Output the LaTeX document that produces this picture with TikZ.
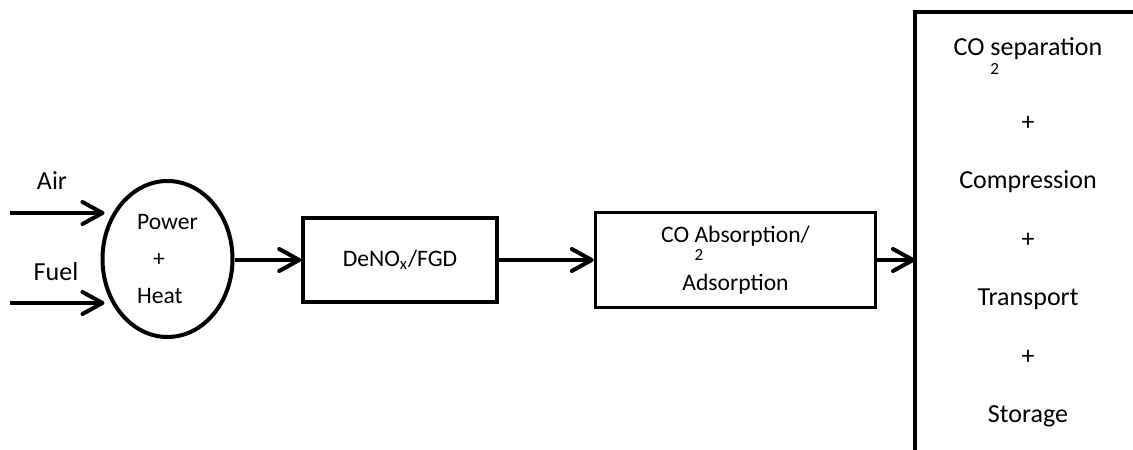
\documentclass[tikz,border=0pt]{standalone}
\usepackage{fontspec}
\setmainfont{Carlito}
\usetikzlibrary{arrows.meta,shapes.geometric}

% subscript 2 set low, under the next word
\newcommand{\lowtwo}{\rlap{\raisebox{-1.6ex}[0pt][0pt]{\fontsize{8.5}{8.5}\selectfont 2}}}

\begin{document}
\begin{tikzpicture}[x=0.5pt, y=-0.5pt,
  flow/.style={line width=2pt, -{Straight Barb[length=10pt, width=11pt, round]}},
  unit/.style={draw, line width=1.8pt, align=center, inner sep=0pt, font=\fontsize{11.8}{24}\selectfont},
  inlet/.style={font=\fontsize{13}{16}\selectfont}]
  \useasboundingbox (0,0) rectangle (1133,449);
  % plant chain
  \node[unit, ellipse, line width=2pt, minimum width=65pt, minimum height=78pt, align=left,
        font=\fontsize{11.8}{18.5}\selectfont] (pw) at (167.5,259) {Power\\\hspace{8pt}+\\Heat};
  \node[unit, minimum width=97pt, minimum height=42pt] (denox) at (400,260) {DeNO\textsubscript{x}/FGD};
  \node[unit, minimum width=140pt, minimum height=47.5pt] (co2) at (735.5,260) {CO\ \lowtwo Absorption/\\Adsorption};
  % open frame on the right
  \node[inner sep=0pt, outer sep=0pt, minimum width=112.5pt, minimum height=224pt] (store) at (1027.5,236) {};
  \draw[line width=1.8pt] (store.north east) -- (store.north west) -- (store.south west);
  \node[align=center, font=\fontsize{13}{29.2}\selectfont] (steps) at (1028,232)
    {CO\ \lowtwo separation\\[8.5pt]+\\Compression\\+\\Transport\\+\\Storage};
  % inputs
  \node[inlet] (air) at (52,181) {Air};
  \node[inlet] (fuel) at (56,272) {Fuel};
  \coordinate (airin) at (10,213);
  \coordinate (fuelin) at (10,303);
  \draw[flow, shorten >=-2pt] (airin) -- (airin -| pw.west);
  \draw[flow, shorten >=-2pt] (fuelin) -- (fuelin -| pw.west);
  \draw[flow] (pw.east |- denox) -- (denox);
  \draw[flow] (denox) -- (co2);
  \draw[flow] (co2) -- (co2 -| store.west);
\end{tikzpicture}
\end{document}
